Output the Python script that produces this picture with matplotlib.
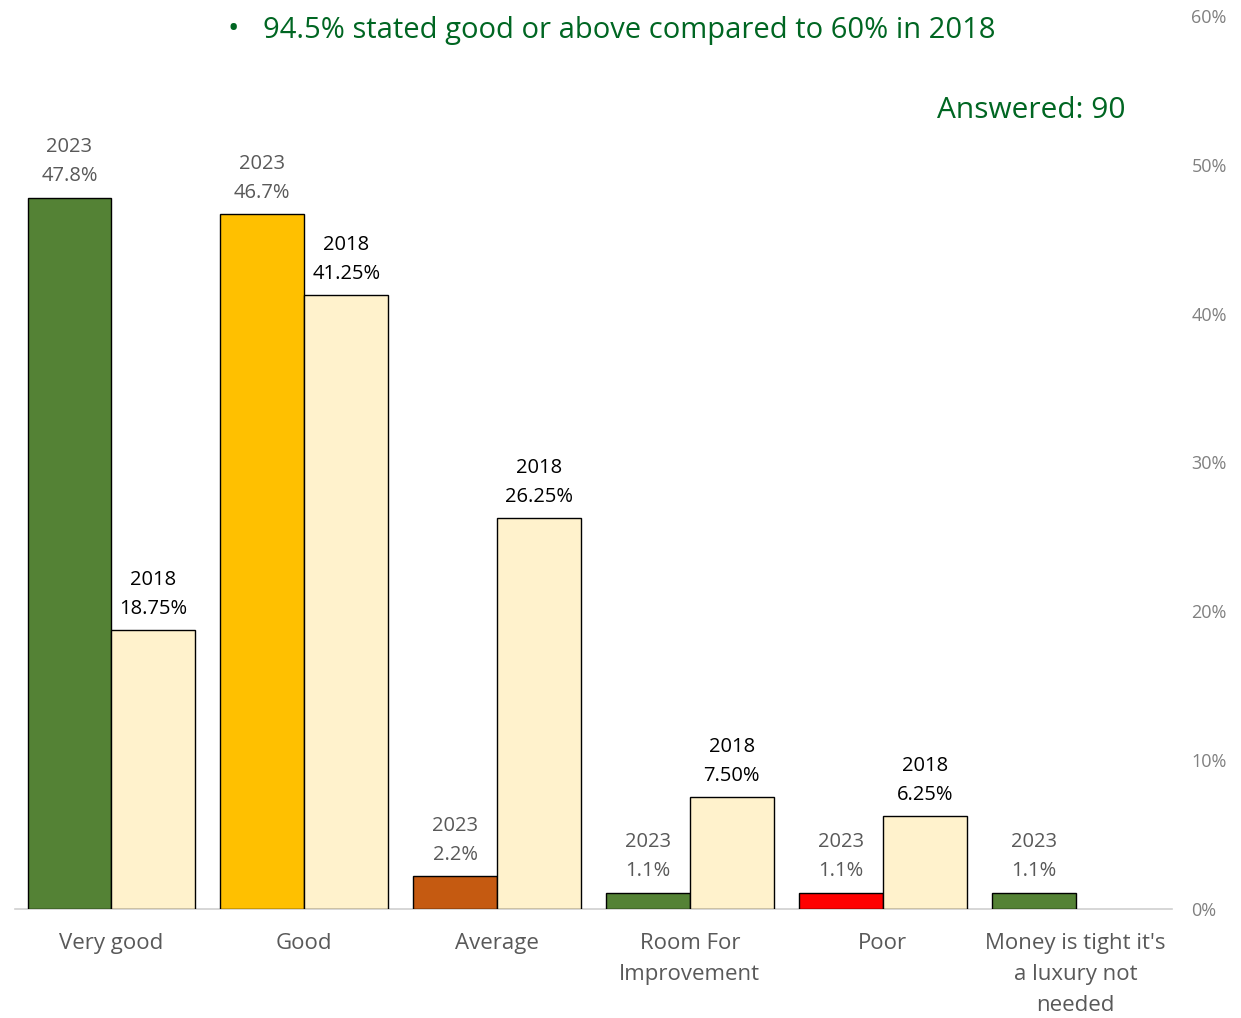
import matplotlib.pyplot as plt
import numpy as np
from matplotlib.ticker import PercentFormatter

categories = ["Very good", "Good", "Average", "Room For\nImprovement", "Poor",
              "Money is tight it's\na luxury not\nneeded"]
vals_2023 = [47.8, 46.7, 2.2, 1.1, 1.1, 1.1]
vals_2018 = [18.75, 41.25, 26.25, 7.50, 6.25, np.nan]
labels_2023 = ["47.8%", "46.7%", "2.2%", "1.1%", "1.1%", "1.1%"]
labels_2018 = ["18.75%", "41.25%", "26.25%", "7.50%", "6.25%", ""]
colors_2023 = ["#548235", "#FFC000", "#C55A11", "#548235", "#FF0000", "#548235"]
color_2018 = "#FFF2CC"

plt.rcParams['font.family'] = ['Open Sans', 'DejaVu Sans']

fig = plt.figure(figsize=(12.41, 10.18), dpi=100)
ax = fig.add_axes([0.0121, 0.1071, 0.9323, 0.8772])

x = np.arange(len(categories))
w = 0.435
b23 = ax.bar(x - w / 2, vals_2023, w, color=colors_2023, edgecolor="black", linewidth=1, zorder=3)
b18 = ax.bar(x + w / 2, vals_2018, w, color=color_2018, edgecolor="black", linewidth=1, zorder=3)

for i in range(len(categories)):
    ax.annotate("2023\n" + labels_2023[i], (x[i] - w / 2, vals_2023[i]), xytext=(0, 8),
                textcoords="offset points", ha="center", va="bottom", fontsize=14.5,
                color="#595959", linespacing=1.6)
    if not np.isnan(vals_2018[i]):
        ax.annotate("2018\n" + labels_2018[i], (x[i] + w / 2, vals_2018[i]), xytext=(0, 8),
                    textcoords="offset points", ha="center", va="bottom", fontsize=14.5,
                    color="black", linespacing=1.6)

ax.set_xlim(-0.5, 5.5)
ax.set_ylim(0, 60)
ax.yaxis.tick_right()
ax.yaxis.set_major_formatter(PercentFormatter(decimals=0))
ax.set_yticks(np.arange(0, 61, 10))
ax.tick_params(axis="y", length=0, pad=14, labelsize=13, labelcolor="#808080")
ax.set_xticks(x)
ax.set_xticklabels(categories, fontsize=16, color="#595959", linespacing=1.65)
ax.tick_params(axis="x", length=0, pad=17)
for s in ["top", "left", "right"]:
    ax.spines[s].set_visible(False)
ax.spines["bottom"].set_color("#D0D0D0")
ax.spines["bottom"].set_linewidth(1.2)

fig.text(0.183, 0.971, "•", fontsize=22, color="#006622", va="center", ha="left")
fig.text(0.212, 0.970, "94.5% stated good or above compared to 60% in 2018",
         fontsize=21, color="#006622", va="center", ha="left")
fig.text(0.907, 0.891, "Answered: 90", fontsize=21.5, color="#006622", va="center", ha="right")

fig.savefig("out.png", dpi=100)
